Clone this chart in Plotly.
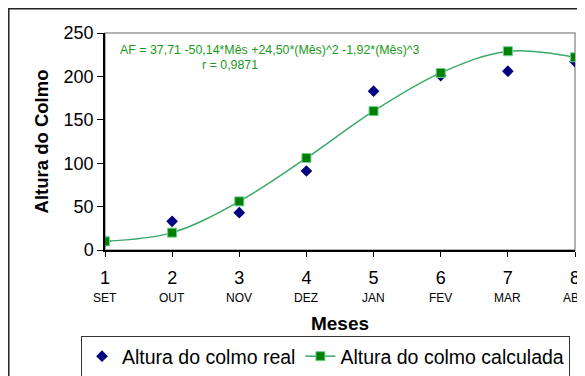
import plotly.graph_objects as go

meses = [1, 2, 3, 4, 5, 6, 7, 8]
mes_nomes = ["SET", "OUT", "NOV", "DEZ", "JAN", "FEV", "MAR", "ABR"]
altura_real = [10, 33, 43, 91, 183, 201, 206, 217]
altura_calc = [10, 20, 56, 106, 160, 204, 229, 222]
y_ticks = [0, 50, 100, 150, 200, 250]

FONT = "Liberation Sans, Arial, sans-serif"

W, H = 585, 376


def px_x(px):
    return (px - 105) / 470


def px_y(py):
    return (250 - py) / 217


fig = go.Figure()
fig.add_trace(go.Scatter(
    x=meses, y=altura_real, mode="markers", name="Altura do colmo real",
    marker=dict(symbol="diamond", size=9, color="#000080",
                line=dict(width=0)),
))
fig.add_trace(go.Scatter(
    x=meses, y=altura_calc, mode="lines+markers", name="Altura do colmo calculada",
    line=dict(shape="spline", smoothing=1.0, color="#3aa86a", width=1.5),
    marker=dict(symbol="square", size=9, color="#008000",
                line=dict(width=1, color="#6fcf8f")),
))

annotations = []
for m, nome in zip(meses, mes_nomes):
    annotations.append(dict(
        x=m, y=0, xref="x", yref="paper", text=nome, showarrow=False,
        yanchor="middle", xanchor="center", yshift=-48,
        font=dict(family=FONT, size=12, color="#000"),
    ))
annotations.append(dict(
    x=px_x(270), y=px_y(50), xref="paper", yref="paper",
    text="AF = 37,71 -50,14*Mês +24,50*(Mês)^2 -1,92*(Mês)^3",
    showarrow=False, xanchor="center", yanchor="middle",
    font=dict(family=FONT, size=12.4, color="#1a9a1a"),
))
annotations.append(dict(
    x=px_x(230), y=px_y(65), xref="paper", yref="paper",
    text="r = 0,9871", showarrow=False, xanchor="center", yanchor="middle",
    font=dict(family=FONT, size=12.4, color="#1a9a1a"),
))

shapes = [
    dict(type="rect", xref="paper", yref="paper", x0=0, x1=1, y0=0, y1=1,
         line=dict(color="#999999", width=1.5), layer="below"),
    dict(type="rect", xref="paper", yref="paper",
         x0=px_x(8.8), x1=1.3, y0=-1.0, y1=px_y(8.8),
         line=dict(color="#222222", width=1.5), layer="below"),
]

fig.update_layout(
    width=W, height=H,
    margin=dict(l=97, r=18, t=25, b=134, autoexpand=False),
    paper_bgcolor="white", plot_bgcolor="white",
    font=dict(family=FONT, size=16, color="#000"),
    showlegend=True,
    legend=dict(
        orientation="h", x=px_x(81), y=px_y(336),
        xanchor="left", yanchor="top",
        bordercolor="#333333", borderwidth=1,
        font=dict(family=FONT, size=19.5, color="#000"),
        tracegroupgap=0,
    ),
    xaxis=dict(
        range=[1, 8], tickvals=meses, ticktext=[str(m) for m in meses],
        showgrid=False, zeroline=False, showline=True, linecolor="#000",
        linewidth=1.5, ticks="outside", ticklen=5, tickcolor="#000",
        tickfont=dict(family=FONT, size=18), automargin=False,
        ticklabelstandoff=6,
        title=dict(text="<b>Meses</b>", standoff=29,
                   font=dict(family=FONT, size=19)),
    ),
    yaxis=dict(
        range=[0, 250], tickvals=y_ticks,
        showgrid=False, zeroline=False, showline=True, linecolor="#000",
        linewidth=1.5, ticks="outside", ticklen=6, tickcolor="#000",
        tickfont=dict(family=FONT, size=18), automargin=False,
        title=dict(text="<b>Altura do Colmo</b>", standoff=10,
                   font=dict(family=FONT, size=18.5)),
    ),
    annotations=annotations,
    shapes=shapes,
)

fig.write_html("out.html")
